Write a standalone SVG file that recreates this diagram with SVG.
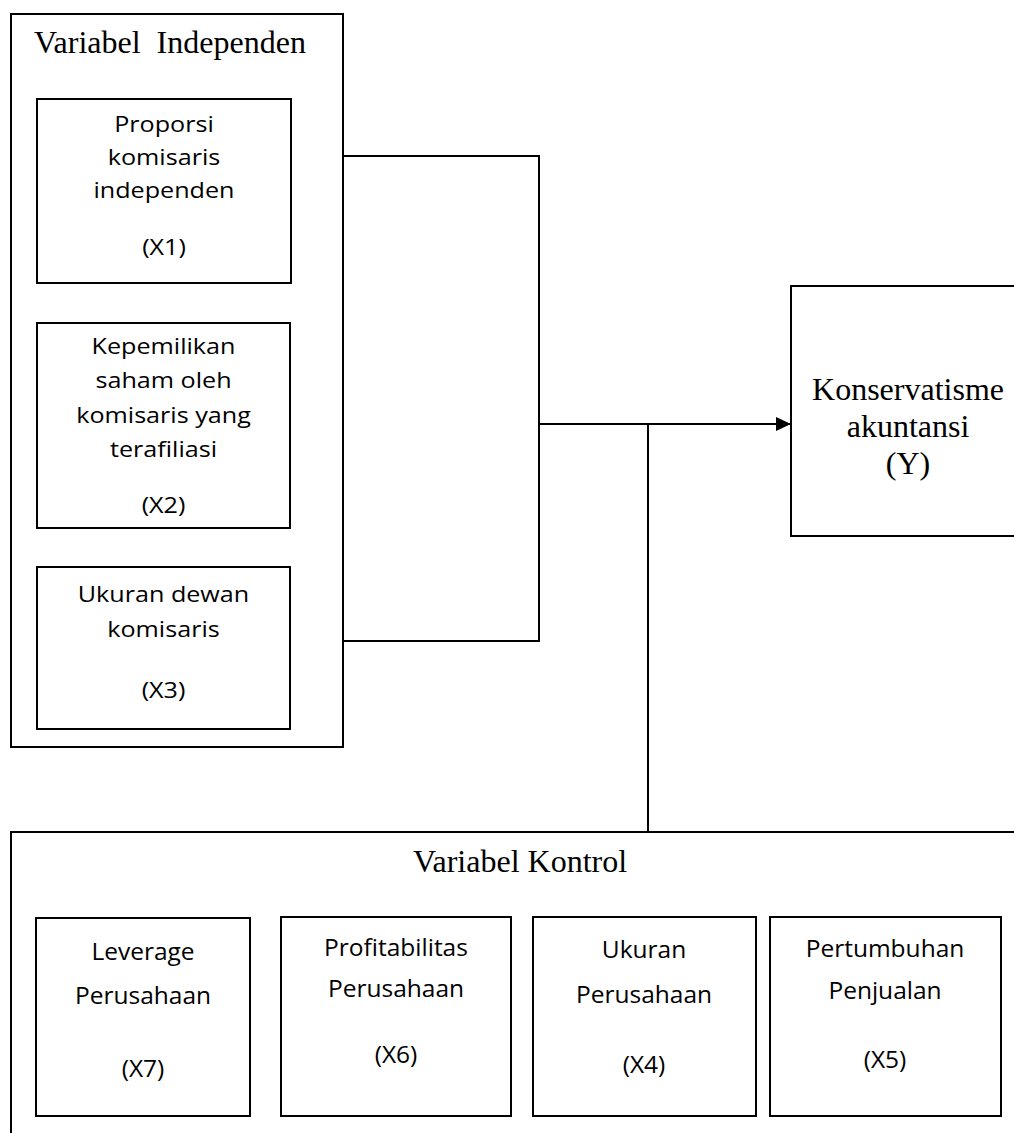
<svg xmlns="http://www.w3.org/2000/svg" width="1014" height="1133" viewBox="0 0 1014 1133">
<style>
.box{fill:none;stroke:#000;stroke-width:2}
.ln{fill:none;stroke:#000;stroke-width:2}
.tt{font-family:"Liberation Serif","Times New Roman",serif;font-size:32px;fill:#000}
.sm{font-family:"Open Sans","Noto Sans",sans-serif;font-size:21.5px;fill:#000;text-anchor:middle}
.bg{font-family:"Open Sans","Noto Sans",sans-serif;font-size:24.5px;fill:#000;text-anchor:middle}
</style>
<defs>
<marker id="arr" markerUnits="userSpaceOnUse" markerWidth="16" markerHeight="16" refX="15" refY="7" orient="auto">
<path d="M0,0 L15,7 L0,14 Z" fill="#000"/>
</marker>
</defs>
<rect width="1014" height="1133" fill="#fff"/>

<g id="independen">
<rect class="box" x="11" y="14" width="332" height="733"/>
<text class="tt" x="34" y="53" xml:space="preserve" style="white-space:pre">Variabel  Independen</text>
</g>

<g id="x1">
<rect class="box" x="37" y="99" width="254" height="184"/>
<g transform="translate(164,0) scale(1.17,1)">
<text class="sm" x="0" y="132">Proporsi</text>
<text class="sm" x="0" y="165">komisaris</text>
<text class="sm" x="0" y="198">independen</text>
<text class="sm" x="0" y="255">(X1)</text>
</g>
</g>

<g id="x2">
<rect class="box" x="37" y="323" width="253" height="205"/>
<g transform="translate(163.5,0) scale(1.17,1)">
<text class="sm" x="0" y="354">Kepemilikan</text>
<text class="sm" x="0" y="388">saham oleh</text>
<text class="sm" x="0" y="423">komisaris yang</text>
<text class="sm" x="0" y="457">terafiliasi</text>
<text class="sm" x="0" y="513">(X2)</text>
</g>
</g>

<g id="x3">
<rect class="box" x="37" y="567" width="253" height="162"/>
<g transform="translate(163.5,0) scale(1.17,1)">
<text class="sm" x="0" y="602">Ukuran dewan</text>
<text class="sm" x="0" y="637">komisaris</text>
<text class="sm" x="0" y="698">(X3)</text>
</g>
</g>

<g id="y">
<rect class="box" x="791" y="286" width="240" height="250"/>
<text class="tt" x="908" y="400" text-anchor="middle">Konservatisme</text>
<text class="tt" x="908" y="437" text-anchor="middle">akuntansi</text>
<text class="tt" x="908" y="474" text-anchor="middle">(Y)</text>
</g>

<g id="kontrol">
<rect class="box" x="11" y="832" width="1020" height="320"/>
<text class="tt" x="520" y="872" text-anchor="middle">Variabel Kontrol</text>
</g>

<g id="x7">
<rect class="box" x="36" y="918" width="214" height="198"/>
<text class="bg" x="143" y="960">Leverage</text>
<text class="bg" x="143" y="1004">Perusahaan</text>
<text class="bg" x="143" y="1077">(X7)</text>
</g>

<g id="x6">
<rect class="box" x="281" y="917" width="230" height="199"/>
<text class="bg" x="396" y="956">Profitabilitas</text>
<text class="bg" x="396" y="997">Perusahaan</text>
<text class="bg" x="396" y="1063">(X6)</text>
</g>

<g id="x4">
<rect class="box" x="533" y="917" width="223" height="199"/>
<text class="bg" x="644" y="958">Ukuran</text>
<text class="bg" x="644" y="1003">Perusahaan</text>
<text class="bg" x="644" y="1073">(X4)</text>
</g>

<g id="x5">
<rect class="box" x="770" y="917" width="231" height="199"/>
<text class="bg" x="885" y="957">Pertumbuhan</text>
<text class="bg" x="885" y="999">Penjualan</text>
<text class="bg" x="885" y="1068">(X5)</text>
</g>

<g id="connectors">
<polyline class="ln" points="343,156 539,156 539,641 343,641"/>
<line class="ln" x1="539" y1="424" x2="791" y2="424" marker-end="url(#arr)"/>
<line class="ln" x1="648" y1="424" x2="648" y2="832"/>
</g>
</svg>
